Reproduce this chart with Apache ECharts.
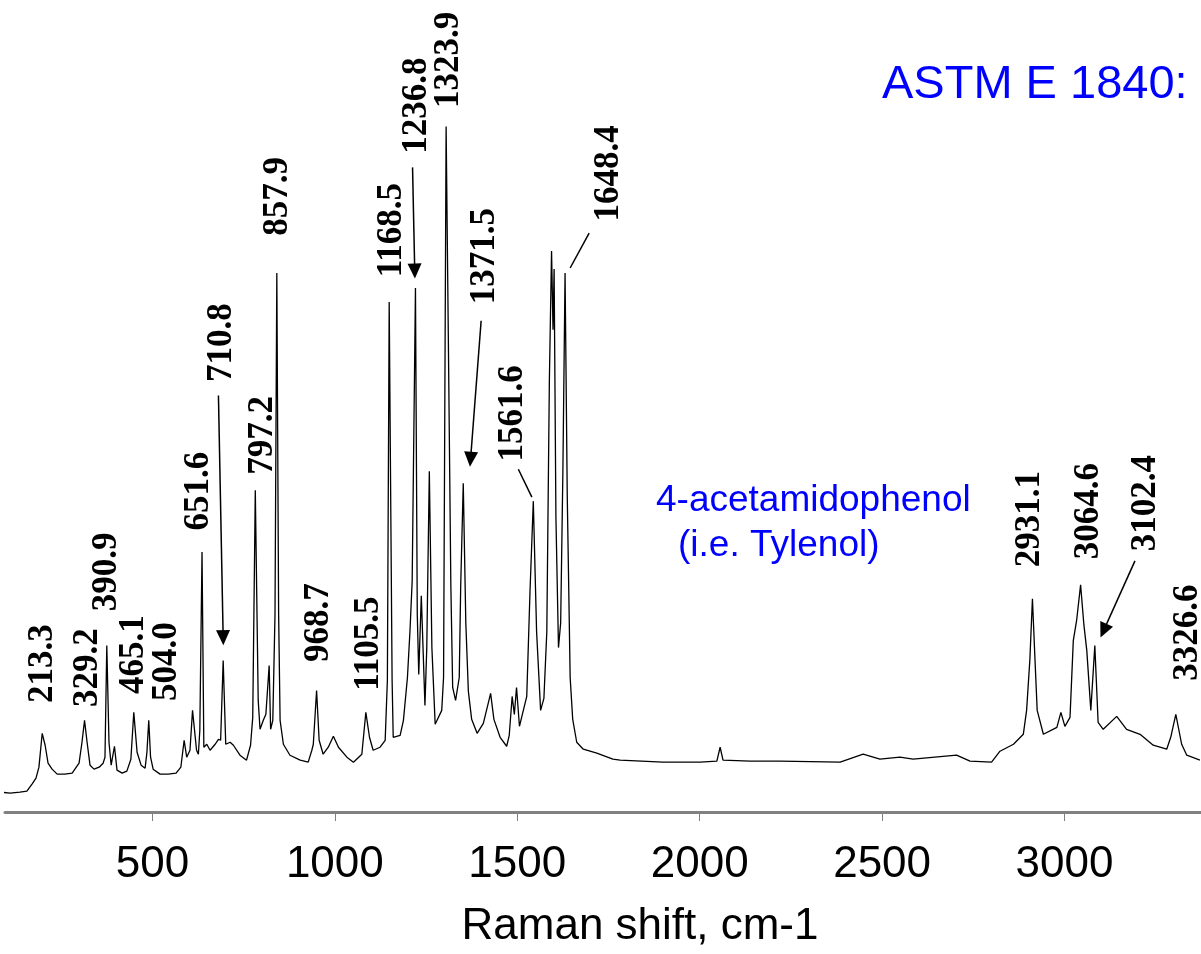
<!DOCTYPE html>
<html>
<head>
<meta charset="utf-8">
<script src="https://cdn.jsdelivr.net/npm/echarts@6/dist/echarts.min.js"></script>
<style>
  html, body { margin: 0; padding: 0; background: #fff; }
  #main { width: 1201px; height: 954px; }
</style>
</head>
<body>
<div id="main"></div>
<script>
// Raman spectrum trace, [shift cm-1, intensity (a.u.)]
var spectrum = [
  [82, 20], [110, 19], [137, 20], [156, 21], [170, 28], [181, 34], [189, 45], [198, 79], [206, 67], [214, 49],
  [225, 43], [239, 38], [260, 38], [280, 39], [299, 49], [307, 70], [314, 92], [321, 70], [329, 47], [340, 43],
  [354, 45], [365, 49], [370, 55], [375, 167], [381, 70], [387, 47], [396, 66], [403, 42], [417, 39], [430, 41],
  [441, 53], [449, 100], [458, 60], [469, 47], [480, 44], [485, 60], [490, 92], [495, 55], [502, 43], [521, 38],
  [543, 38], [565, 39], [578, 45], [587, 72], [594, 55], [603, 62], [610, 102], [621, 62], [626, 58], [630, 82],
  [636, 261], [641, 65], [649, 68], [658, 62], [672, 68], [681, 73], [687, 72], [694, 152], [701, 68], [713, 70],
  [722, 67], [740, 57], [758, 52], [769, 67], [775, 95], [782, 323], [790, 112], [795, 83], [804, 92], [811, 98],
  [820, 147], [824, 83], [830, 92], [836, 198], [841, 541], [846, 198], [850, 92], [859, 68], [877, 57], [905, 52],
  [927, 50], [937, 62], [941, 68], [950, 122], [957, 72], [968, 58], [982, 65], [996, 76], [1010, 65], [1033, 55],
  [1051, 50], [1074, 58], [1085, 100], [1095, 75], [1105, 62], [1124, 65], [1138, 72], [1144, 132], [1149, 512], [1157, 132],
  [1160, 75], [1179, 77], [1188, 92], [1199, 135], [1206, 182], [1212, 232], [1221, 526], [1226, 198], [1230, 138], [1237, 217],
  [1247, 107], [1252, 165], [1259, 342], [1266, 165], [1275, 88], [1293, 102], [1298, 135], [1305, 688], [1311, 479], [1318, 227],
  [1323, 125], [1331, 112], [1341, 135], [1345, 227], [1352, 330], [1359, 190], [1366, 121], [1375, 93], [1390, 79], [1407, 89],
  [1427, 119], [1436, 93], [1453, 75], [1471, 66], [1478, 77], [1486, 116], [1492, 98], [1498, 125], [1506, 86], [1526, 116],
  [1535, 222], [1544, 312], [1553, 181], [1564, 102], [1573, 114], [1581, 181], [1588, 433], [1594, 563], [1598, 484], [1601, 545],
  [1606, 295], [1613, 165], [1619, 190], [1625, 341], [1631, 541], [1637, 318], [1645, 135], [1652, 93], [1663, 70], [1681, 63],
  [1718, 59], [1762, 53], [1782, 52], [1899, 50], [2001, 50], [2047, 51], [2056, 65], [2064, 52], [2138, 51], [2220, 51],
  [2385, 50], [2448, 58], [2494, 53], [2549, 55], [2585, 53], [2704, 57], [2741, 51], [2800, 50], [2823, 61], [2860, 68],
  [2887, 78], [2896, 102], [2905, 153], [2912, 214], [2919, 153], [2925, 102], [2942, 78], [2979, 85], [2990, 100], [3001, 86],
  [3015, 95], [3024, 172], [3033, 192], [3044, 228], [3053, 188], [3061, 162], [3072, 102], [3083, 167], [3092, 90], [3106, 83],
  [3143, 96], [3170, 83], [3207, 78], [3243, 67], [3280, 63], [3291, 75], [3305, 98], [3321, 68], [3335, 57], [3371, 52]
];

// peak labels and where their centres sit (data units)
var peakNames = ['213.3', '329.2', '390.9', '465.1', '504.0', '651.6', '710.8', '797.2', '857.9', '968.7',
  '1105.5', '1168.5', '1236.8', '1323.9', '1371.5', '1561.6', '1648.4', '2931.1', '3064.6', '3102.4', '3326.6'];
var peakLabelAt = [[199, 149], [323, 145], [376, 241], [450, 158], [540, 151], [628, 322], [690, 471], [804, 378], [845, 618], [957, 190],
  [1094, 169], [1156, 584], [1224, 709], [1313, 755], [1412, 558], [1489, 400], [1750, 641], [2905, 294], [3067, 302], [3222, 310], [3337, 180]];

// arrows from a label to its peak, and plain leader lines
var arrows = [
  [[681, 418], [694, 175]],
  [[1213, 647], [1219, 543]],
  [[1401, 493], [1372, 354]],
  [[3193, 252], [3107, 182]]
];
var leaders = [
  [[1503, 344], [1540, 316]],
  [[1697, 581], [1645, 546]]
];

var xTicks = [500, 1000, 1500, 2000, 2500, 3000];

var myChart = echarts.init(document.getElementById('main'));

var labelPoints = peakNames.map(function (name, i) {
  return {
    coord: peakLabelAt[i],
    symbolSize: 0,
    label: { formatter: name }
  };
});

var lines = arrows.map(function (a) {
  return [{ coord: a[0], symbol: 'none' }, { coord: a[1], symbol: 'triangle', symbolSize: [14, 15] }];
}).concat(leaders.map(function (a) {
  return [{ coord: a[0], symbol: 'none' }, { coord: a[1], symbol: 'none' }];
}));

var sans = 'Liberation Sans, Arial, sans-serif';

var option = {
  animation: false,
  title: [{
    text: 'ASTM E 1840:',
    left: 882, top: 62, padding: 0,
    textStyle: { color: '#0000ff', fontSize: 47, fontWeight: 'normal', fontFamily: sans }
  }, {
    text: '4-acetamidophenol',
    left: 656, top: 482, padding: 0,
    textStyle: { color: '#0000ff', fontSize: 37, fontWeight: 'normal', fontFamily: sans }
  }, {
    text: '(i.e. Tylenol)',
    left: 678, top: 527, padding: 0,
    textStyle: { color: '#0000ff', fontSize: 37, fontWeight: 'normal', fontFamily: sans }
  }],
  grid: { left: 5, right: 0, top: 0, bottom: 139 },
  xAxis: {
    type: 'value',
    min: 96,
    max: 3374,
    name: 'Raman shift, cm-1',
    nameLocation: 'middle',
    nameGap: 93,
    nameTextStyle: { fontSize: 44, color: '#000', fontFamily: sans, padding: [0, 0, 0, 74] },
    axisLine: { lineStyle: { color: '#808080', width: 3 } },
    axisTick: { customValues: xTicks, length: 9, lineStyle: { color: '#808080', width: 1 } },
    axisLabel: {
      customValues: xTicks, margin: 31, fontSize: 44, color: '#000', fontFamily: sans,
      formatter: function (v) { return String(v); }
    },
    splitLine: { show: false }
  },
  yAxis: { type: 'value', min: 0, max: 815, show: false },
  series: [{
    type: 'line',
    data: spectrum,
    symbol: 'none',
    clip: false,
    lineStyle: { color: '#000', width: 1.3 },
    markPoint: {
      silent: true,
      symbol: 'circle',
      label: {
        show: true,
        position: 'inside',
        rotate: 90,
        color: '#000',
        fontSize: 35,
        fontWeight: 'bold',
        fontFamily: 'Liberation Serif, Times New Roman, serif'
      },
      data: labelPoints
    },
    markLine: {
      silent: true,
      label: { show: false },
      lineStyle: { color: '#000', width: 1.5, type: 'solid' },
      emphasis: { disabled: true },
      data: lines
    }
  }]
};

myChart.setOption(option);
</script>
</body>
</html>
